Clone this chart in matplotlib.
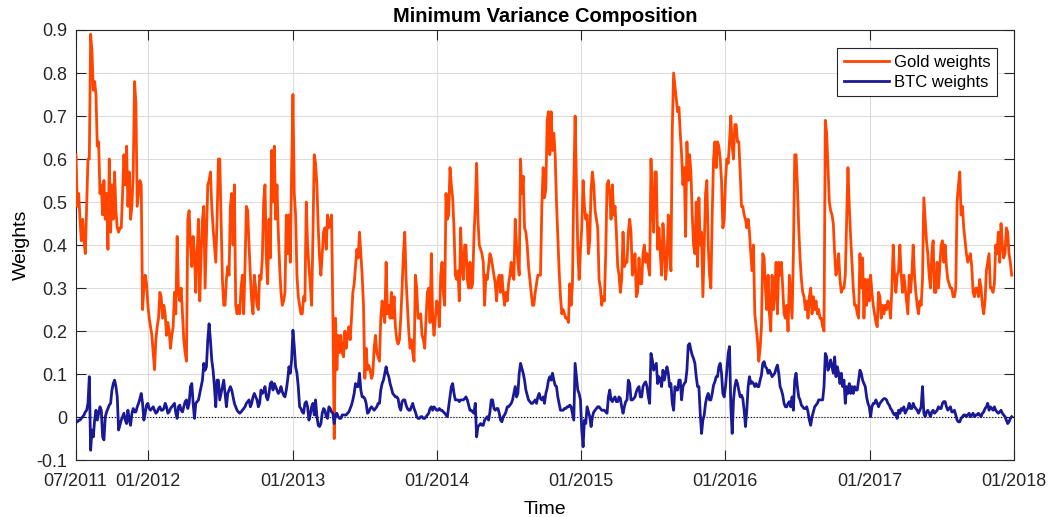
import numpy as np
import pandas as pd
import matplotlib
matplotlib.use('Agg')
import matplotlib.pyplot as plt
import matplotlib.dates as mdates

plt.rcParams['font.family'] = ['Liberation Sans', 'DejaVu Sans']

first_date = '2011-07-02'
last_date = '2017-12-26'

gold = [
    # 2011-07 .. 2012-06
    0.61,0.49,0.52,0.46,0.41,0.46,0.41,0.38,0.49,0.60,
    0.60,0.89,0.85,0.76,0.78,0.75,0.63,0.64,0.52,0.54,
    0.47,0.55,0.46,0.52,0.39,0.60,0.43,0.54,0.46,0.57,
    0.48,0.44,0.43,0.44,0.44,0.52,0.61,0.54,0.63,0.49,
    0.57,0.46,0.49,0.57,0.78,0.73,0.49,0.52,0.55,0.54,
    0.25,0.30,0.33,0.31,0.26,0.23,0.21,0.19,0.15,0.11,
    0.18,0.21,0.23,0.29,0.28,0.23,0.26,0.24,0.19,0.22,
    0.20,0.16,0.19,0.21,0.29,0.24,0.42,0.29,0.27,0.30,
    0.24,0.18,0.15,0.13,0.46,0.48,0.40,0.35,0.42,0.38,
    0.29,0.38,0.46,0.27,0.38,0.46,0.49,0.30,0.42,0.54,
    0.55,0.57,0.49,0.44,0.40,0.36,0.46,0.60,
    # 2012-06 .. 2013-08
    0.60,0.46,0.32,0.26,0.26,0.32,0.35,0.33,0.49,0.52,
    0.40,0.54,0.26,0.24,0.26,0.24,0.30,0.33,0.24,0.35,
    0.49,0.48,0.40,0.33,0.27,0.24,0.33,0.30,0.26,0.25,
    0.33,0.32,0.37,0.50,0.54,0.37,0.31,0.46,0.37,0.62,
    0.50,0.63,0.46,0.54,0.43,0.35,0.29,0.26,0.27,0.29,
    0.47,0.38,0.47,0.36,0.57,0.75,0.52,0.47,0.33,0.28,
    0.26,0.24,0.24,0.28,0.27,0.50,0.40,0.35,0.31,0.26,
    0.42,0.61,0.59,0.54,0.44,0.37,0.33,0.38,0.43,0.44,
    0.39,0.47,0.44,0.45,0.47,0.24,-0.05,0.23,0.11,0.19,
    0.15,0.19,0.15,0.14,0.20,0.16,0.19,0.21,0.18,0.23,
    0.29,0.31,0.35,0.39,0.37,0.43,0.38,0.33,0.26,0.09,
    0.16,0.11,0.12,0.11,0.09,0.10,0.16,0.19,0.15,0.14,
    # 2013-08 .. 2014-09
    0.13,0.23,0.27,0.24,0.22,0.36,0.24,0.26,0.23,0.29,
    0.23,0.28,0.21,0.18,0.17,0.18,0.23,0.30,0.38,0.43,
    0.32,0.26,0.20,0.16,0.18,0.15,0.13,0.33,0.30,0.23,
    0.23,0.24,0.19,0.18,0.16,0.23,0.29,0.30,0.22,0.38,
    0.23,0.19,0.23,0.27,0.26,0.21,0.33,0.36,0.29,0.26,
    0.52,0.46,0.47,0.58,0.54,0.51,0.44,0.33,0.32,0.34,
    0.27,0.44,0.35,0.32,0.40,0.40,0.32,0.30,0.36,0.30,
    0.31,0.42,0.49,0.59,0.46,0.40,0.39,0.38,0.36,0.26,
    0.33,0.32,0.35,0.38,0.37,0.35,0.33,0.31,0.27,0.32,
    0.33,0.29,0.33,0.29,0.26,0.29,0.27,0.31,0.33,0.36,
    0.33,0.32,0.46,0.40,0.36,0.33,0.60,0.52,0.56,0.44,
    0.43,0.40,0.35,0.32,0.29,0.26,0.26,0.29,0.31,0.33,
    # 2014-09 .. 2015-10
    0.33,0.33,0.49,0.58,0.51,0.53,0.69,0.71,0.61,0.71,
    0.62,0.66,0.61,0.50,0.42,0.34,0.28,0.24,0.25,0.24,
    0.23,0.23,0.22,0.31,0.26,0.31,0.54,0.70,0.54,0.39,
    0.32,0.39,0.44,0.55,0.49,0.46,0.47,0.38,0.41,0.53,
    0.57,0.54,0.48,0.46,0.44,0.32,0.30,0.26,0.28,0.27,
    0.38,0.54,0.55,0.52,0.46,0.54,0.47,0.49,0.43,0.35,
    0.33,0.29,0.32,0.43,0.35,0.36,0.36,0.43,0.46,0.43,
    0.33,0.35,0.38,0.28,0.29,0.37,0.31,0.31,0.38,0.40,
    0.36,0.38,0.35,0.33,0.60,0.50,0.43,0.57,0.57,0.39,
    0.44,0.38,0.33,0.45,0.40,0.32,0.36,0.47,0.39,0.34,
    0.67,0.80,0.77,0.74,0.71,0.72,0.66,0.61,0.54,0.58,
    0.42,0.64,0.55,0.61,0.57,0.47,0.40,0.38,0.50,0.35,
    # 2015-10 .. 2016-12
    0.51,0.40,0.43,0.28,0.40,0.52,0.55,0.40,0.33,0.30,
    0.47,0.60,0.64,0.58,0.64,0.63,0.60,0.55,0.44,0.46,
    0.55,0.60,0.59,0.64,0.70,0.63,0.60,0.68,0.68,0.64,
    0.64,0.57,0.49,0.49,0.47,0.46,0.44,0.46,0.43,0.38,
    0.34,0.40,0.24,0.21,0.18,0.13,0.16,0.21,0.38,0.37,
    0.30,0.25,0.33,0.24,0.20,0.33,0.25,0.29,0.36,0.24,
    0.36,0.33,0.36,0.30,0.24,0.23,0.26,0.20,0.33,0.28,
    0.23,0.38,0.61,0.61,0.54,0.44,0.37,0.32,0.29,0.28,
    0.25,0.27,0.23,0.28,0.30,0.24,0.28,0.25,0.27,0.24,
    0.25,0.23,0.23,0.21,0.20,0.69,0.66,0.58,0.50,0.48,
    0.47,0.45,0.38,0.33,0.35,0.38,0.32,0.29,0.30,0.30,
    0.33,0.46,0.58,0.49,0.42,0.36,0.30,0.26,0.26,0.24,
    # 2016-12 .. 2017-12
    0.23,0.38,0.30,0.37,0.23,0.32,0.26,0.32,0.27,0.33,
    0.29,0.26,0.24,0.22,0.21,0.29,0.28,0.23,0.26,0.24,
    0.26,0.25,0.27,0.26,0.23,0.30,0.40,0.33,0.29,0.33,
    0.34,0.40,0.33,0.29,0.33,0.30,0.27,0.24,0.33,0.29,
    0.33,0.40,0.33,0.29,0.26,0.24,0.27,0.26,0.32,0.51,
    0.46,0.41,0.38,0.33,0.30,0.38,0.41,0.29,0.29,0.36,
    0.30,0.35,0.40,0.41,0.36,0.40,0.35,0.32,0.31,0.30,
    0.30,0.28,0.28,0.30,0.50,0.54,0.57,0.47,0.49,0.44,
    0.41,0.38,0.36,0.37,0.38,0.35,0.29,0.28,0.30,0.30,
    0.28,0.32,0.30,0.26,0.24,0.27,0.34,0.36,0.38,0.30,
    0.30,0.29,0.31,0.40,0.38,0.43,0.36,0.45,0.40,0.37,
    0.38,0.44,0.43,0.38,0.36,0.33,
]

btc = [
    # 2011-07 .. 2012-06
    -0.011,-0.011,-0.007,-0.007,-0.003,0.001,0.005,0.012,0.016,0.032,
    0.094,-0.077,-0.030,-0.046,-0.007,0.016,-0.007,0.009,0.024,0.016,
    -0.046,-0.053,0.001,0.012,0.020,0.028,0.032,0.063,0.078,0.086,
    0.071,0.047,-0.030,-0.019,-0.007,0.001,0.009,-0.007,-0.015,0.016,
    -0.007,-0.019,0.009,0.020,0.012,0.012,0.024,0.032,0.043,0.055,
    0.032,-0.007,0.009,0.028,0.032,0.020,0.016,0.020,0.024,0.016,
    0.009,0.012,0.020,0.024,0.016,0.016,0.020,0.032,0.024,0.009,
    0.012,0.020,0.024,0.028,0.032,0.009,-0.003,0.024,0.028,0.016,
    0.012,0.024,0.036,0.040,0.020,0.032,0.071,0.078,0.032,-0.003,
    0.032,0.036,0.040,0.055,0.071,0.086,0.125,0.109,0.117,0.179,
    0.217,0.179,0.133,0.109,0.071,0.024,0.086,0.086,
    # 2012-06 .. 2013-08
    0.040,0.055,0.071,0.086,0.055,0.024,0.055,0.063,0.071,0.063,
    0.047,0.032,0.024,0.016,0.012,0.009,0.012,0.016,0.020,0.024,
    0.032,0.036,0.040,0.024,0.032,0.047,0.055,0.047,0.040,0.024,
    0.032,0.063,0.055,0.059,0.071,0.047,0.040,0.055,0.078,0.082,
    0.063,0.078,0.071,0.063,0.055,0.059,0.071,0.059,0.051,0.047,
    0.063,0.086,0.117,0.102,0.133,0.202,0.164,0.117,0.102,0.071,
    0.024,0.020,0.012,0.009,0.032,0.036,0.024,-0.007,0.005,0.024,
    0.032,0.005,0.040,0.001,-0.019,-0.022,-0.015,0.009,0.020,0.016,
    0.001,-0.003,0.024,0.020,0.012,0.009,-0.015,0.005,0.009,0.001,
    -0.003,-0.003,0.005,0.005,0.005,0.005,0.009,0.012,0.020,0.028,
    0.040,0.055,0.078,0.071,0.071,0.102,0.063,0.047,0.047,0.043,
    0.032,0.009,0.012,0.020,0.024,0.020,0.016,0.020,0.024,0.032,
    # 2013-08 .. 2014-09
    0.032,0.063,0.078,0.086,0.102,0.117,0.102,0.094,0.078,0.067,
    0.055,0.051,0.047,0.047,0.043,0.024,0.016,0.036,0.040,0.040,
    0.028,0.020,0.016,0.016,0.024,0.032,0.020,0.012,0.001,-0.003,
    -0.003,0.001,0.001,-0.003,-0.003,0.001,0.005,0.009,0.020,0.024,
    0.016,0.024,0.020,0.016,0.016,0.020,0.016,0.016,0.012,0.009,
    0.005,0.001,0.024,0.047,0.071,0.078,0.055,0.040,0.040,0.040,
    0.036,0.040,0.040,0.040,0.043,0.047,0.040,0.028,0.016,0.016,
    0.012,0.009,0.032,-0.046,-0.022,-0.019,-0.015,-0.019,-0.019,-0.007,
    -0.003,0.001,-0.007,0.012,0.040,0.040,0.020,0.016,0.020,0.020,
    0.009,-0.007,-0.011,0.001,0.005,0.012,0.024,0.024,0.028,0.032,
    0.040,0.055,0.071,0.047,0.055,0.102,0.125,0.113,0.102,0.086,
    0.063,0.051,0.040,0.036,0.032,0.032,0.036,0.040,0.032,0.047,
    # 2014-09 .. 2015-10
    0.055,0.043,0.040,0.047,0.032,0.055,0.067,0.086,0.094,0.086,
    0.102,0.086,0.074,0.071,0.047,0.032,0.016,0.016,0.016,0.020,
    0.020,0.024,0.024,0.028,0.024,0.009,-0.007,0.125,0.094,0.063,
    0.055,0.040,-0.030,-0.069,-0.007,-0.015,0.024,0.012,0.001,-0.022,
    0.001,0.012,0.016,0.020,0.024,0.024,0.020,0.016,0.016,0.016,
    0.012,0.009,0.047,0.063,0.040,0.036,0.043,0.047,0.036,0.036,
    0.047,0.043,0.024,0.009,0.024,0.036,0.040,0.086,0.078,0.040,
    0.040,0.043,0.047,0.059,0.067,0.071,0.047,0.047,0.071,0.078,
    0.082,0.071,0.047,0.032,0.148,0.133,0.109,0.117,0.125,0.078,
    0.094,0.086,0.071,0.109,0.086,0.102,0.117,0.102,0.071,0.078,
    0.032,0.016,0.071,0.063,0.063,0.086,0.086,0.040,0.071,0.078,
    0.082,0.109,0.167,0.171,0.156,0.144,0.136,0.125,0.094,0.071,
    # 2015-10 .. 2016-12
    0.071,0.009,-0.038,-0.007,0.005,0.032,0.047,0.055,0.040,0.040,
    0.055,0.074,0.082,0.094,0.094,0.117,0.125,0.102,0.055,0.047,
    0.071,0.109,0.148,0.164,0.024,-0.038,0.040,0.071,0.086,0.078,
    0.063,0.047,0.051,0.043,0.016,-0.022,0.016,0.071,0.094,0.078,
    0.082,0.078,0.071,0.078,0.071,0.071,0.086,0.098,0.125,0.129,
    0.117,0.113,0.102,0.109,0.102,0.094,0.098,0.102,0.113,0.121,
    0.102,0.071,0.063,0.051,0.032,0.024,0.024,0.032,0.036,0.024,
    0.047,0.016,0.086,0.102,0.071,0.047,0.040,0.028,0.024,0.020,
    0.020,0.024,0.012,-0.007,-0.019,0.001,0.012,0.024,0.028,0.032,
    0.040,0.040,0.040,0.040,0.071,0.148,0.140,0.109,0.117,0.133,
    0.117,0.102,0.140,0.094,0.117,0.102,0.078,0.102,0.071,0.086,
    0.032,0.071,0.055,0.078,0.055,0.071,0.055,0.071,0.063,0.063,
    # 2016-12 .. 2017-12
    0.086,0.109,0.102,0.086,0.078,0.071,0.047,0.032,0.024,0.001,
    0.024,0.032,0.032,0.040,0.032,0.024,0.032,0.036,0.040,0.043,
    0.043,0.040,0.032,0.028,0.020,0.016,0.009,0.005,0.009,-0.003,
    0.016,0.009,0.020,0.016,0.024,0.009,0.016,0.020,0.032,0.020,
    0.020,0.032,0.024,0.020,0.016,0.009,0.016,0.024,0.071,0.009,
    0.001,0.012,0.016,0.009,0.001,0.012,0.016,0.009,0.012,0.016,
    0.024,0.020,0.020,0.032,0.036,0.036,0.024,0.016,0.020,0.024,
    0.012,0.012,0.016,0.005,-0.007,-0.011,-0.011,-0.003,0.001,0.005,
    0.005,0.001,0.005,0.009,0.001,0.005,0.009,0.001,0.005,0.005,
    0.009,0.005,0.001,0.009,0.012,0.020,0.024,0.032,0.016,0.024,
    0.020,0.016,0.024,0.016,0.012,0.009,0.012,0.016,0.009,0.005,
    0.001,-0.007,-0.015,-0.011,-0.003,0.001,
]

tick_dates = ['2011-07-01', '2012-01-01', '2013-01-01', '2014-01-01',
              '2015-01-01', '2016-01-01', '2017-01-01', '2018-01-01']
y_ticks = [-0.1, 0, 0.1, 0.2, 0.3, 0.4, 0.5, 0.6, 0.7, 0.8, 0.9]
y_labels = ['-0.1', '0', '0.1', '0.2', '0.3', '0.4', '0.5', '0.6', '0.7', '0.8', '0.9']

gold_dates = pd.date_range(first_date, last_date, periods=len(gold))
btc_dates = pd.date_range(first_date, last_date, periods=len(btc))

### Plot ###
fig = plt.figure(figsize=(10.53, 5.17), dpi=100)
ax = fig.add_axes([0.0718, 0.110, 0.8912, 0.832])

ax.plot(gold_dates, gold, color='#ff4500', lw=2.0, label='Gold weights', zorder=3)
ax.plot(btc_dates, btc, color='#1a1a96', lw=2.0, label='BTC weights', zorder=4)
ax.axhline(0, color='k', ls=':', lw=0.8, zorder=2)

ax.set_xlim(pd.Timestamp(tick_dates[0]), pd.Timestamp(tick_dates[-1]))
ax.set_ylim(-0.1, 0.9)
ax.set_xticks([pd.Timestamp(d) for d in tick_dates])
ax.xaxis.set_major_formatter(mdates.DateFormatter('%m/%Y'))
ax.set_yticks(y_ticks)
ax.set_yticklabels(y_labels)

ax.grid(True, color='#dcdcdc', lw=0.8)
ax.set_axisbelow(True)
ax.tick_params(direction='in', top=True, right=True, labelsize=13,
               colors='#262626', length=7, width=0.8)
ax.tick_params(axis='x', pad=9)
ax.tick_params(axis='y', pad=6)
for sp in ax.spines.values():
    sp.set_color('#262626')
    sp.set_linewidth(0.8)

ax.set_title('Minimum Variance Composition', fontsize=14.5, fontweight='bold', pad=6)
ax.set_xlabel('Time', fontsize=14, labelpad=8)
ax.set_ylabel('Weights', fontsize=14, labelpad=5)

leg = ax.legend(loc='upper right', bbox_to_anchor=(0.982, 0.958), borderaxespad=0,
                fontsize=12, fancybox=False, framealpha=1, edgecolor='#262626',
                handlelength=2.7, handletextpad=0.3, borderpad=0.4,
                labelspacing=0.3)
leg.get_frame().set_linewidth(0.8)

fig.savefig('out.png', dpi=100)
